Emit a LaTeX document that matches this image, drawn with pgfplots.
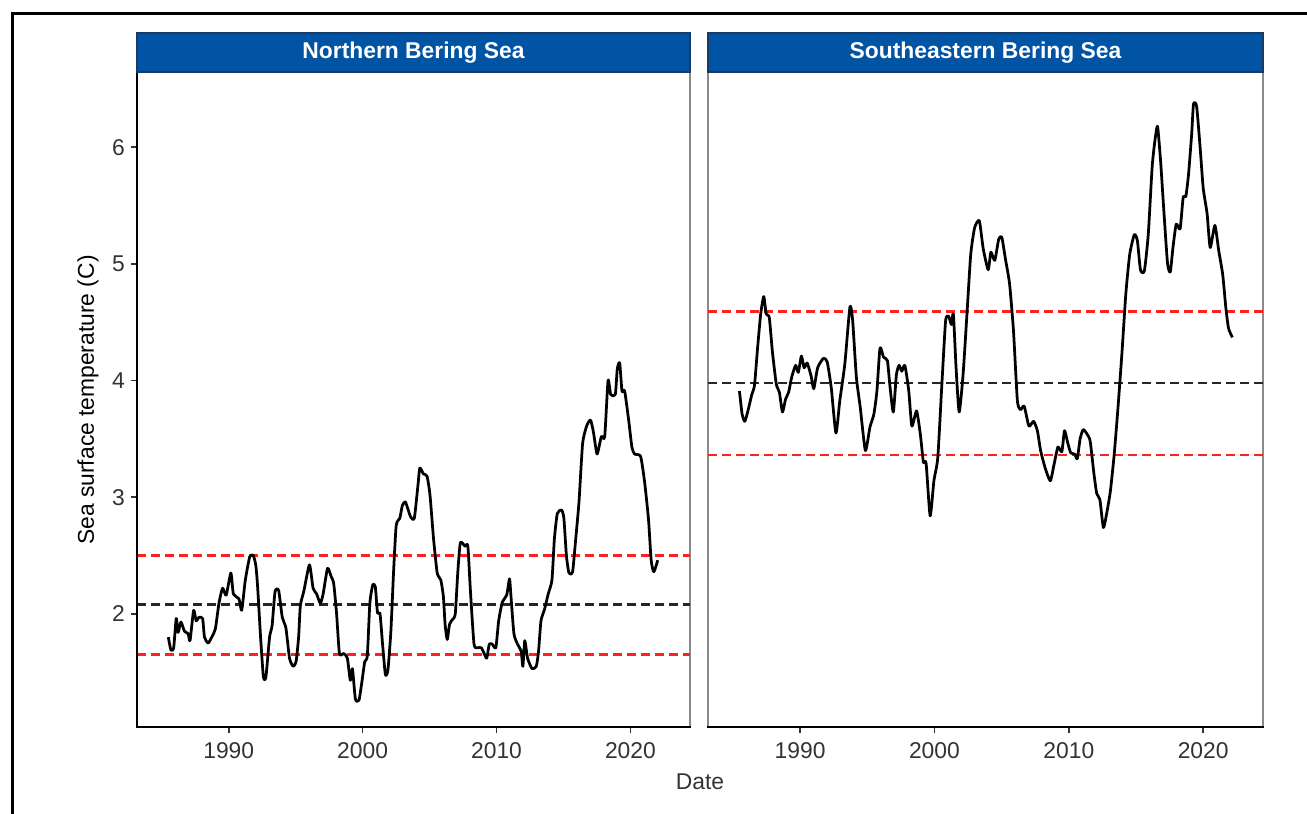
\documentclass[border=0pt]{standalone}
\usepackage{pgfplots}
\pgfplotsset{compat=1.18}
\usepackage{fontspec}
\setmainfont{Liberation Sans}

\definecolor{stripblue}{HTML}{0054A3}
\definecolor{stripedge}{HTML}{1A3A66}
\definecolor{framegray}{HTML}{8A8A8A}
\definecolor{ticktext}{HTML}{333333}
\definecolor{hlred}{HTML}{FF2020}
\definecolor{hlblack}{HTML}{262626}

\pgfplotsset{
  panel/.style={
    scale only axis,
    width=110.6mm, height=131mm,
    xmin=1983.15, xmax=2024.45,
    ymin=1.03, ymax=6.645,
    xtick={1990,2000,2010,2020},
    ytick={2,3,4,5,6},
    tick pos=left,
    tick align=outside,
    major tick length=1.2mm,
    every tick/.style={ticktext, line width=0.35mm},
    axis line style={framegray, line width=0.4mm},
    tick label style={font=\fontsize{13}{15}\selectfont, text=ticktext},
    /pgf/number format/assume math mode=true,
    /pgf/number format/1000 sep={},
    xticklabel style={yshift=-0.6mm},
  },
  series/.style={black, line width=0.55mm, line join=round, smooth, tension=0.35},
  hl/.style={line width=0.5mm, dash pattern=on 1.7mm off 1.1mm},
}

\begin{document}
\begin{tikzpicture}
\useasboundingbox (0,0) rectangle (261.4mm,162.8mm);
\draw[line width=0.6mm] (2.4mm,-1mm) -- (2.4mm,160.0mm) -- (262mm,160.0mm);

\begin{axis}[panel, name=L, at={(27.4mm,17.4mm)}, anchor=south west]
\addplot[hl, hlred] coordinates {(1983.15,2.50) (2024.45,2.50)};
\addplot[hl, hlblack] coordinates {(1983.15,2.08) (2024.45,2.08)};
\addplot[hl, hlred] coordinates {(1983.15,1.65) (2024.45,1.65)};
\addplot[series] coordinates {
(1985.49,1.80) (1985.68,1.69) (1985.89,1.71) (1986.08,1.96) (1986.22,1.84)
(1986.43,1.93) (1986.70,1.85) (1986.97,1.83) (1987.11,1.77) (1987.38,2.03)
(1987.57,1.94) (1987.78,1.97) (1988.05,1.96) (1988.19,1.80) (1988.46,1.75)
(1988.73,1.80) (1989.00,1.87) (1989.27,2.09) (1989.54,2.22) (1989.81,2.16)
(1990.16,2.35) (1990.35,2.17) (1990.76,2.13) (1990.97,2.03) (1991.24,2.29)
(1991.57,2.49) (1991.84,2.50) (1992.03,2.41) (1992.16,2.23) (1992.38,1.80)
(1992.59,1.46) (1992.78,1.46) (1993.05,1.80) (1993.24,1.90) (1993.46,2.19)
(1993.73,2.20) (1994.00,1.97) (1994.27,1.88) (1994.54,1.62) (1994.81,1.55)
(1995.03,1.59) (1995.22,1.80) (1995.35,2.07) (1995.62,2.20) (1996.03,2.42)
(1996.30,2.22) (1996.57,2.17) (1996.84,2.09) (1997.05,2.17) (1997.38,2.39)
(1997.65,2.32) (1997.84,2.26) (1998.05,2.01) (1998.27,1.66) (1998.59,1.66)
(1998.86,1.62) (1999.08,1.43) (1999.24,1.53) (1999.46,1.27) (1999.73,1.26)
(1999.95,1.42) (2000.16,1.59) (2000.35,1.64) (2000.54,2.09) (2000.76,2.25)
(2000.95,2.23) (2001.11,2.01) (2001.30,2.00) (2001.49,1.74) (2001.70,1.48)
(2001.89,1.52) (2002.11,1.85) (2002.32,2.38) (2002.51,2.76) (2002.78,2.82)
(2002.97,2.93) (2003.19,2.96) (2003.38,2.90) (2003.59,2.83) (2003.86,2.82)
(2004.14,3.11) (2004.27,3.25) (2004.54,3.20) (2004.81,3.18) (2005.03,3.02)
(2005.30,2.64) (2005.57,2.35) (2005.84,2.29) (2006.03,2.15) (2006.16,1.91)
(2006.32,1.78) (2006.49,1.91) (2006.70,1.95) (2006.92,2.00) (2007.11,2.36)
(2007.30,2.61) (2007.65,2.58) (2007.86,2.58) (2008.05,2.20) (2008.32,1.74)
(2008.59,1.71) (2008.86,1.71) (2009.08,1.66) (2009.27,1.62) (2009.46,1.74)
(2009.68,1.74) (2009.95,1.71) (2010.16,1.94) (2010.43,2.10) (2010.76,2.16)
(2010.97,2.30) (2011.08,2.15) (2011.30,1.83) (2011.57,1.74) (2011.84,1.68)
(2011.97,1.55) (2012.11,1.77) (2012.32,1.62) (2012.65,1.53) (2012.97,1.55)
(2013.14,1.68) (2013.32,1.94) (2013.59,2.04) (2013.86,2.17) (2014.14,2.29)
(2014.32,2.64) (2014.54,2.86) (2014.86,2.89) (2015.03,2.82) (2015.22,2.50)
(2015.41,2.35) (2015.68,2.36) (2015.89,2.61) (2016.16,2.96) (2016.43,3.46)
(2016.76,3.62) (2017.03,3.66) (2017.25,3.55) (2017.51,3.37) (2017.83,3.52)
(2018.08,3.52) (2018.33,4.00) (2018.53,3.88) (2018.87,3.88) (2019.02,4.10)
(2019.20,4.15) (2019.37,3.91) (2019.57,3.91) (2019.87,3.66) (2020.11,3.43)
(2020.31,3.37) (2020.76,3.35) (2021.06,3.13) (2021.35,2.81) (2021.55,2.46)
(2021.75,2.36) (2022.04,2.46)
};
\end{axis}

\begin{axis}[panel, name=R, at={(141.6mm,17.4mm)}, anchor=south west,
  width=111mm, ytick=\empty]
\addplot[hl, hlred] coordinates {(1983.15,4.59) (2024.45,4.59)};
\addplot[hl, hlblack] coordinates {(1983.15,3.98) (2024.45,3.98)};
\addplot[hl, hlred] coordinates {(1983.15,3.36) (2024.45,3.36)};
\addplot[series] coordinates {
(1985.49,3.91) (1985.69,3.71) (1985.89,3.65) (1986.12,3.74) (1986.41,3.88)
(1986.61,3.96) (1986.84,4.28) (1987.07,4.57) (1987.30,4.72) (1987.48,4.57)
(1987.71,4.54) (1987.94,4.25) (1988.23,3.97) (1988.46,3.90) (1988.69,3.73)
(1988.92,3.84) (1989.15,3.90) (1989.38,4.03) (1989.67,4.13) (1989.87,4.07)
(1990.10,4.21) (1990.30,4.11) (1990.53,4.15) (1990.82,4.04) (1991.02,3.93)
(1991.31,4.11) (1991.74,4.19) (1992.02,4.16) (1992.32,3.94) (1992.67,3.55)
(1992.96,3.83) (1993.33,4.14) (1993.71,4.63) (1993.91,4.52) (1994.19,4.03)
(1994.48,3.77) (1994.86,3.40) (1995.20,3.60) (1995.49,3.71) (1995.72,3.91)
(1995.95,4.28) (1996.21,4.20) (1996.50,4.17) (1996.70,3.94) (1996.94,3.73)
(1997.17,4.05) (1997.37,4.13) (1997.57,4.08) (1997.80,4.13) (1998.09,3.91)
(1998.32,3.61) (1998.67,3.74) (1998.95,3.54) (1999.18,3.30) (1999.38,3.29)
(1999.68,2.84) (1999.96,3.14) (2000.25,3.34) (2000.54,3.94) (2000.83,4.51)
(2001.06,4.55) (2001.26,4.48) (2001.41,4.57) (2001.61,4.11) (2001.84,3.73)
(2002.13,4.05) (2002.42,4.57) (2002.70,5.08) (2002.99,5.31) (2003.34,5.37)
(2003.63,5.13) (2004.00,4.95) (2004.20,5.10) (2004.49,5.03) (2004.78,5.21)
(2005.01,5.23) (2005.30,5.03) (2005.59,4.83) (2005.88,4.43) (2006.17,3.83)
(2006.40,3.75) (2006.68,3.78) (2007.03,3.61) (2007.38,3.65) (2007.66,3.57)
(2007.90,3.40) (2008.24,3.25) (2008.62,3.14) (2008.90,3.28) (2009.19,3.43)
(2009.48,3.39) (2009.68,3.57) (2009.91,3.47) (2010.14,3.38) (2010.43,3.37)
(2010.63,3.33) (2010.84,3.50) (2011.07,3.58) (2011.36,3.54) (2011.59,3.48)
(2011.87,3.20) (2012.08,3.03) (2012.31,2.98) (2012.57,2.74) (2012.80,2.85)
(2013.09,3.05) (2013.38,3.37) (2013.66,3.77) (2013.95,4.23) (2014.24,4.74)
(2014.53,5.08) (2014.87,5.25) (2015.10,5.20) (2015.33,4.95) (2015.62,4.94)
(2015.91,5.25) (2016.20,5.83) (2016.40,6.05) (2016.60,6.18) (2016.83,5.88)
(2017.12,5.37) (2017.35,5.00) (2017.55,4.93) (2017.75,5.14) (2017.99,5.34)
(2018.28,5.30) (2018.51,5.57) (2018.71,5.58) (2018.91,5.77) (2019.14,6.11)
(2019.28,6.37) (2019.51,6.35) (2019.77,6.00) (2020.00,5.65) (2020.29,5.43)
(2020.52,5.14) (2020.87,5.33) (2021.16,5.11) (2021.45,4.91) (2021.68,4.63)
(2021.88,4.45) (2022.17,4.37)
};
\end{axis}

% darker bottom and left axis lines
\draw[black, line width=0.5mm, line cap=rect] (L.north west) -- (L.south west) -- (L.south east);
\draw[black, line width=0.5mm, line cap=rect] (R.south west) -- (R.south east);

% facet strips
\foreach \p/\t in {L/Northern Bering Sea, R/Southeastern Bering Sea}{
  \filldraw[fill=stripblue, draw=stripedge, line width=0.35mm]
    (\p.north west) rectangle ([yshift=7.8mm]\p.north east);
  \node[text=white, font=\bfseries\fontsize{13}{15}\selectfont]
    at ([yshift=3.9mm]\p.north) {\t};
}

\node[rotate=90, font=\fontsize{13}{15}\selectfont] at (17.6mm,82.8mm) {Sea surface temperature (C)};
\node[font=\fontsize{13}{15}\selectfont, text=ticktext] at (140mm,6.4mm) {Date};
\end{tikzpicture}
\end{document}
